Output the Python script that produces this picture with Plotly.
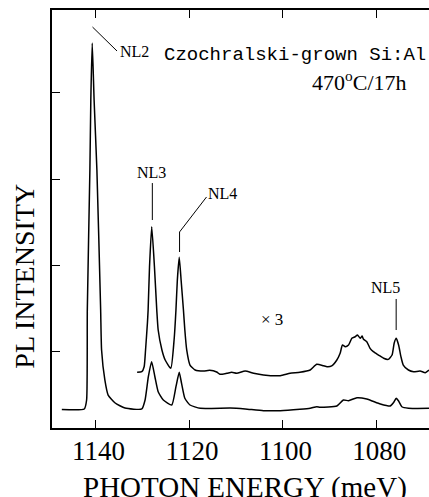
import plotly.graph_objects as go

# ---- data (photon energy in meV, PL intensity in arbitrary units) ----
lower_energy = [1147.2, 1142.4, 1141.9, 1141.75, 1141.2, 1141.0, 1140.7, 1140.3, 1139.7, 1138.9,
                1138.7, 1138.0, 1137.3, 1135.8, 1133.7, 1130.1, 1129.4, 1128.7, 1128.0, 1127.3,
                1126.6, 1125.5, 1123.7, 1122.8, 1122.1, 1121.6, 1120.9, 1119.8, 1117.6, 1111.2,
                1108.0, 1104.1, 1100.5, 1096.3, 1094.1, 1092.7, 1092.0, 1088.4, 1087.0, 1085.9,
                1084.1, 1082.0, 1079.1, 1077.0, 1076.3, 1075.7, 1075.2, 1074.5, 1073.1, 1068.7]
lower_intensity = [0.320, 0.326, 0.430, 1.477, 3.105, 3.919, 4.581, 3.919, 3.105, 1.477,
                   1.012, 0.663, 0.488, 0.395, 0.337, 0.326, 0.430, 0.701, 0.876, 0.701,
                   0.527, 0.430, 0.372, 0.585, 0.752, 0.624, 0.450, 0.372, 0.334, 0.337,
                   0.326, 0.306, 0.306, 0.322, 0.334, 0.352, 0.345, 0.360, 0.430, 0.422,
                   0.457, 0.442, 0.384, 0.360, 0.399, 0.450, 0.419, 0.352, 0.334, 0.334]

upper_energy = [1131.1, 1130.1, 1129.6, 1129.3, 1128.9, 1128.75, 1128.45, 1127.98, 1127.4, 1126.9,
                1126.6, 1125.8, 1125.1, 1123.9, 1123.2, 1122.8, 1122.5, 1122.1, 1121.7, 1121.2,
                1120.9, 1120.5, 1119.8, 1118.7, 1116.9, 1115.6, 1114.1, 1113.4, 1111.9, 1110.9,
                1109.8, 1108.0, 1106.2, 1104.1, 1100.5, 1098.4, 1096.3, 1094.1, 1092.7, 1091.3,
                1090.5, 1089.5, 1088.4, 1087.7, 1087.2, 1086.6, 1085.9, 1085.2, 1084.5, 1084.0,
                1083.4, 1083.0, 1082.7, 1082.0, 1081.3, 1080.6, 1079.5, 1078.4, 1077.4, 1076.6,
                1076.15, 1075.7, 1075.2, 1074.7, 1074.2, 1073.1, 1072.0, 1070.6, 1069.5, 1068.7]
upper_intensity = [0.752, 0.759, 0.817, 1.012, 1.326, 1.477, 1.980, 2.445, 1.980, 1.477,
                   1.244, 1.012, 0.895, 0.799, 1.128, 1.477, 1.826, 2.090, 1.826, 1.477,
                   1.244, 1.012, 0.837, 0.779, 0.767, 0.775, 0.756, 0.729, 0.741, 0.752,
                   0.741, 0.767, 0.741, 0.721, 0.713, 0.741, 0.752, 0.779, 0.845, 0.829,
                   0.817, 0.826, 0.895, 0.973, 1.070, 1.050, 1.070, 1.148, 1.166, 1.186,
                   1.148, 1.174, 1.136, 1.108, 1.031, 0.992, 0.953, 0.915, 0.903, 0.953,
                   1.090, 1.148, 1.070, 0.934, 0.837, 0.779, 0.759, 0.767, 0.748, 0.779]

x_ticks = [1140, 1120, 1100, 1080]
y_ticks = [1, 2, 3, 4]

SERIF = "Liberation Serif, Times New Roman, serif"
MONO = "Liberation Mono, Courier New, monospace"

fig = go.Figure()
fig.add_trace(go.Scatter(x=lower_energy, y=lower_intensity, mode="lines",
                         line=dict(color="black", width=1.5, shape="spline", smoothing=0.5),
                         hoverinfo="skip"))
fig.add_trace(go.Scatter(x=upper_energy, y=upper_intensity, mode="lines",
                         line=dict(color="black", width=1.5, shape="spline", smoothing=0.5),
                         hoverinfo="skip"))

# leader lines for the peak labels
leaders = [
    [(1140.64, 4.767), (1135.4, 4.488)],
    [(1127.85, 2.953), (1127.85, 2.523)],
    [(1116.26, 2.791), (1122.03, 2.384), (1122.03, 2.151)],
    [(1075.72, 1.605), (1075.72, 1.244)],
]
for pts in leaders:
    path = "M " + " L ".join(f"{x},{y}" for x, y in pts)
    fig.add_shape(type="path", path=path, xref="x", yref="y",
                  line=dict(color="black", width=1))

labels = [
    dict(x=1135.2, y=4.48, text="NL2", xanchor="left", size=16, font=SERIF),
    dict(x=1128.0, y=3.081, text="NL3", xanchor="center", size=16, font=SERIF),
    dict(x=1112.83, y=2.837, text="NL4", xanchor="center", size=16, font=SERIF),
    dict(x=1078.07, y=1.733, text="NL5", xanchor="center", size=16, font=SERIF),
    dict(x=1102.35, y=1.372, text="× 3", xanchor="center", size=17, font=SERIF),
    dict(x=1125.78, y=4.442, text="Czochralski-grown Si:Al", xanchor="left", size=19, font=MONO),
    dict(x=1094.2, y=4.14, text="470<sup>o</sup>C/17h", xanchor="left", size=22, font=SERIF),
]
for lb in labels:
    fig.add_annotation(x=lb["x"], y=lb["y"], xref="x", yref="y", text=lb["text"],
                       showarrow=False, xanchor=lb["xanchor"], yanchor="middle",
                       font=dict(family=lb["font"], size=lb["size"], color="black"))

# axis titles
fig.add_annotation(x=-0.0716, y=0.362, xref="paper", yref="paper", text="PL INTENSITY",
                   showarrow=False, textangle=-90, xanchor="center", yanchor="middle",
                   font=dict(family=SERIF, size=28, color="black"))
fig.add_annotation(x=0.512, y=-0.143, xref="paper", yref="paper", text="PHOTON ENERGY (meV)",
                   showarrow=False, xanchor="center", yanchor="middle",
                   font=dict(family=SERIF, size=29, color="black"))

fig.update_layout(
    width=429, height=497,
    margin=dict(l=52, r=0, t=10, b=69),
    paper_bgcolor="white", plot_bgcolor="white",
    showlegend=False,
    xaxis=dict(range=[1149.3, 1068.7], tickvals=x_ticks, ticks="inside", ticklen=8,
               tickwidth=1.2, tickcolor="black", showline=True, linecolor="black",
               linewidth=1.5, mirror="ticks", showgrid=False, zeroline=False,
               tickfont=dict(family=SERIF, size=27, color="black"),
               ticklabelstandoff=-2, ticklabelshift=-3),
    yaxis=dict(range=[0.1047, 4.965], tickvals=y_ticks, ticks="inside", ticklen=8,
               tickwidth=1.2, tickcolor="black", showline=True, linecolor="black",
               linewidth=1.5, mirror=False, showgrid=False, zeroline=False,
               showticklabels=False),
)

fig.write_html("out.html", config={"displayModeBar": False},
               post_script="document.body.style.margin='0';document.body.style.overflow='hidden';")
